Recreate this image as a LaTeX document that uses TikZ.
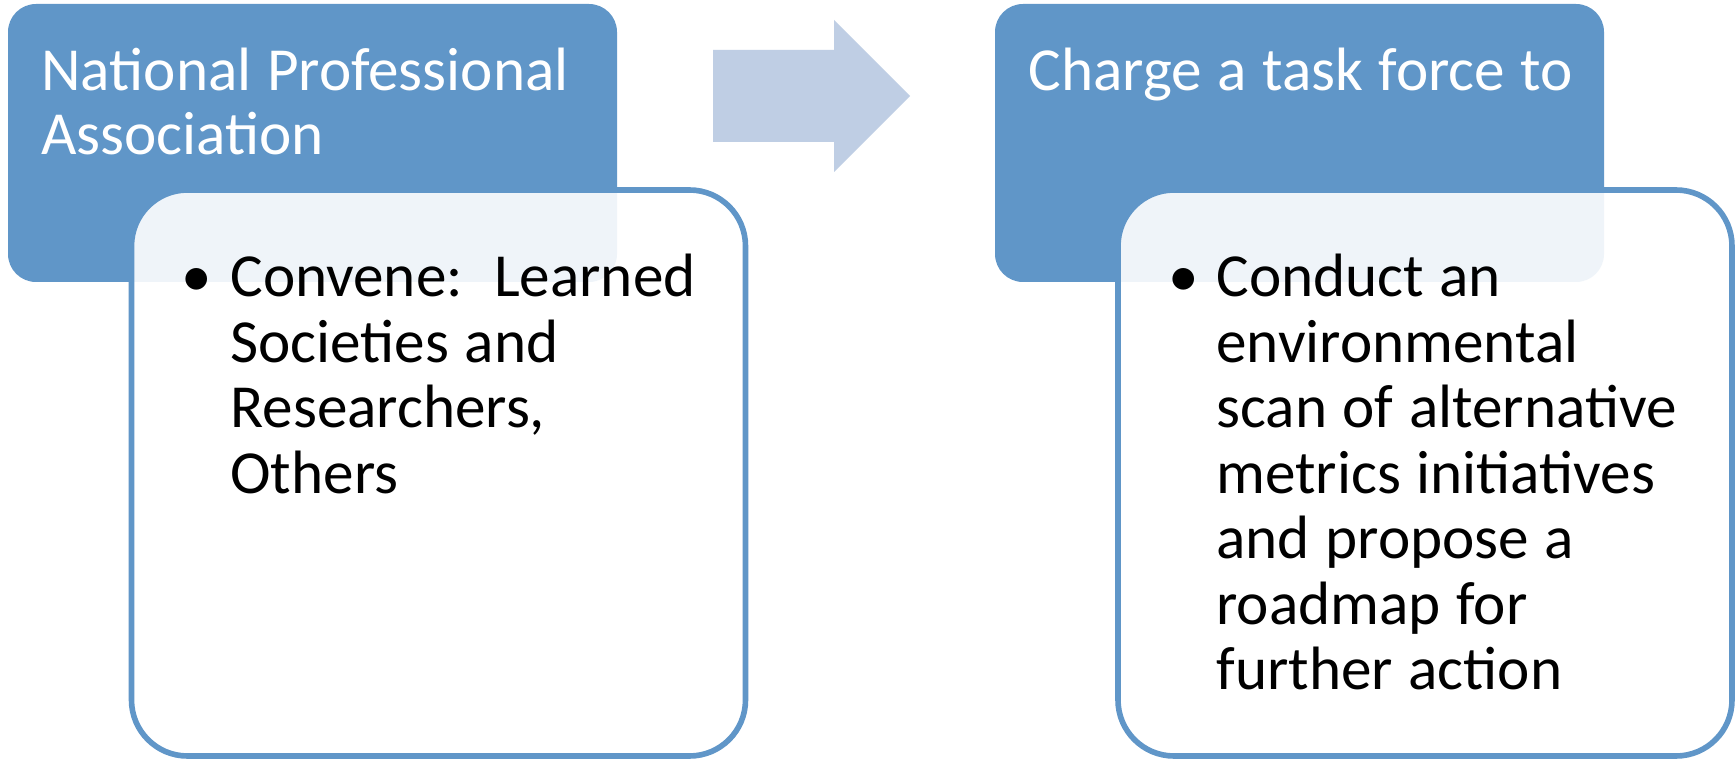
\documentclass[tikz,border=0pt]{standalone}
\usepackage{fontspec}
\setmainfont{Carlito}
\definecolor{boxblue}{RGB}{96,150,200}
\definecolor{arrowblue}{RGB}{191,206,228}
\newcommand{\tightspace}{\spaceskip=0.255em\relax\xspaceskip=0.255em\relax}
\begin{document}
\begin{tikzpicture}[x=0.5pt,y=-0.5pt,
  headbox/.style={fill=boxblue, rounded corners=14pt, inner sep=0pt, outer sep=0pt,
    minimum width=304.5pt, minimum height=139pt, anchor=north west},
  bodybox/.style={fill=white, fill opacity=0.9, draw=boxblue, draw opacity=1,
    line width=2.8pt, rounded corners=28pt, inner sep=0pt, outer sep=0pt,
    minimum width=307pt, minimum height=283pt, anchor=north west},
  headtext/.style={text=white, font=\fontsize{30.6pt}{32pt}\selectfont,
    anchor=base west, inner sep=0pt, text width=300pt, align=left,
    execute at begin node=\tightspace},
  bodytext/.style={text=black, font=\fontsize{30.6pt}{32.75pt}\selectfont,
    anchor=base west, inner sep=0pt, text width=260pt, align=left,
    execute at begin node=\tightspace},
  bulletmark/.style={text=black, font=\fontsize{30.6pt}{32.75pt}\selectfont,
    anchor=base, inner sep=0pt},
]
\useasboundingbox (0,0) rectangle (1735,759);
\fill[white] (0,0) rectangle (1735,759);

% left group
\node[headbox] (blue1) at (8,4) {};
\node[bodybox] (white1) at (131.5,190) {};
\node[headtext] (title1) at (41,91) {National Professional\\Association};
\node[bulletmark] (bul1) at (197,297) {•};
\node[bodytext] (text1) at (230,297) {Convene:\ \ Learned\\Societies and\\Researchers,\\Others};

% right group
\node[headbox] (blue2) at (995,4) {};
\node[bodybox] (white2) at (1118,190) {};
\node[headtext] (title2) at (1028,91) {Charge a task force to};
\node[bulletmark] (bul2) at (1183.5,297) {•};
\node[bodytext] (text2) at (1216,297) {Conduct an\\environmental\\scan of alternative\\metrics initiatives\\and propose a\\roadmap for\\further action};

% arrow
\fill[arrowblue] (713,50) -- (834,50) -- (834,20) -- (910,96) -- (834,172)
  -- (834,142) -- (713,142) -- cycle;
\end{tikzpicture}
\end{document}
